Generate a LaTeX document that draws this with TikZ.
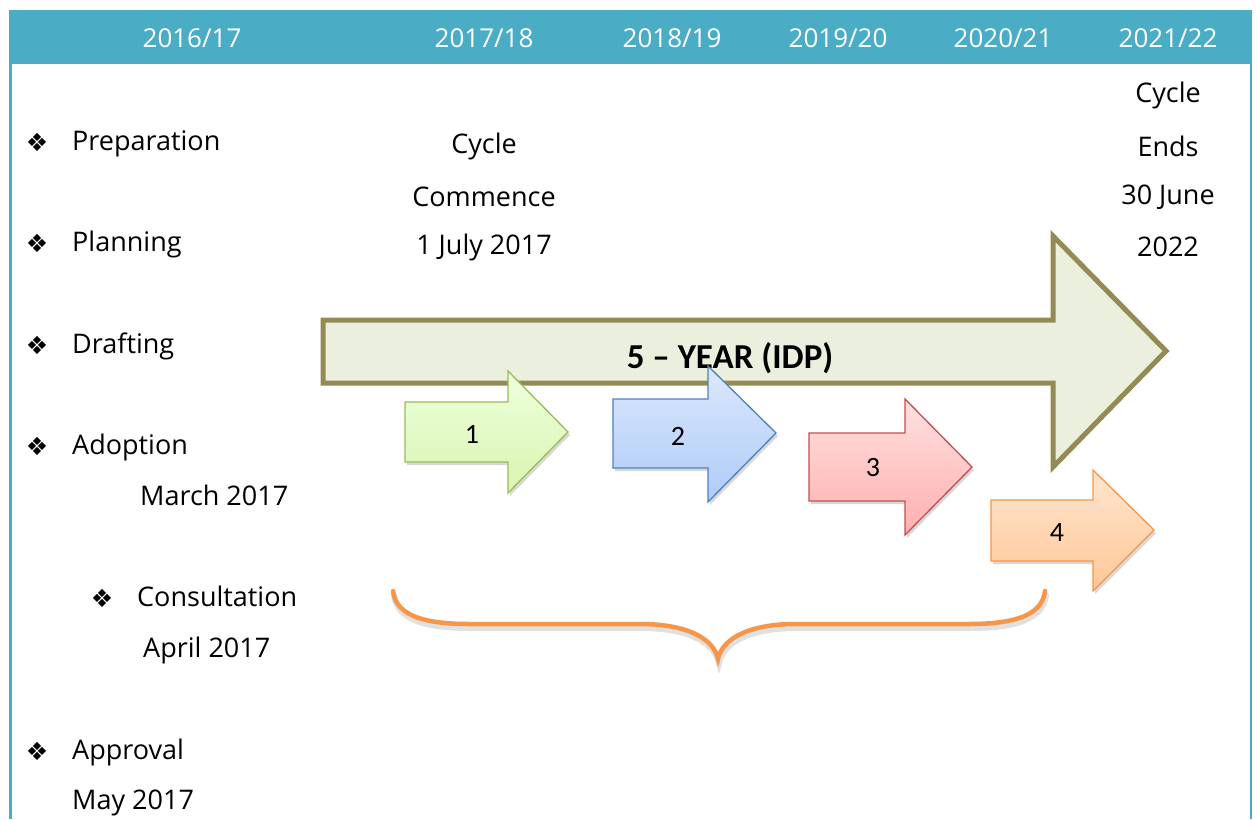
\documentclass[tikz,border=0pt]{standalone}
\usepackage{fontspec}
\setmainfont{Open Sans}
\newfontfamily\dejavu{DejaVu Sans}
\newfontfamily\carlito{Carlito}
\usetikzlibrary{shadows}
\definecolor{hdr}{HTML}{4BACC6}
\definecolor{olive}{HTML}{948A54}
\definecolor{olivefill}{HTML}{EBF0DE}
\definecolor{gline}{HTML}{9BBB59}
\definecolor{gtop}{HTML}{EEFFDD}
\definecolor{gbot}{HTML}{D8F5B0}
\definecolor{bline}{HTML}{4F81BD}
\definecolor{btop}{HTML}{DCE8FC}
\definecolor{bbot}{HTML}{AECBF8}
\definecolor{rline}{HTML}{C0504D}
\definecolor{rtop}{HTML}{FFE0E0}
\definecolor{rbot}{HTML}{FFAFAF}
\definecolor{oline}{HTML}{F79646}
\definecolor{otop}{HTML}{FFE5D0}
\definecolor{obot}{HTML}{FFC896}
\begin{document}
\begin{tikzpicture}[x=1pt,y=-1pt,
  hdrtext/.style={text=white,font=\fontsize{26}{30}\selectfont,inner sep=0pt},
  bodytext/.style={font=\fontsize{27}{32}\selectfont,inner sep=0pt},
  bul/.style={font=\dejavu\fontsize{25}{28}\selectfont,inner sep=0pt},
  numtext/.style={font=\carlito\fontsize{28}{32}\selectfont,inner sep=0pt},
  smallarrow/.style={line width=1.3pt,drop shadow={opacity=0.3,shadow xshift=2pt,shadow yshift=-3pt}},
  bracepath/.style={line width=4.5pt,line cap=round},
]
\useasboundingbox (0,0) rectangle (1257,819);
\fill[white] (0,0) rectangle (1257,819);
% header and frame
\fill[hdr] (9,10) rectangle (1252,64);
\draw[hdr,line width=3pt] (10,10) -- (10,819);
\draw[hdr,line width=2pt] (1251,10) -- (1251,819);
\node[hdrtext] (h1) at (192,38) {2016/17};
\node[hdrtext] (h2) at (484,38) {2017/18};
\node[hdrtext] (h3) at (672,38) {2018/19};
\node[hdrtext] (h4) at (838,38) {2019/20};
\node[hdrtext] (h5) at (1003,38) {2020/21};
\node[hdrtext] (h6) at (1168,38) {2021/22};
% left list
\node[bul] (b1) at (37,142) {❖};
\node[bodytext,anchor=mid west] (t1) at (72,148) {Preparation};
\node[bul] (b2) at (37,243) {❖};
\node[bodytext,anchor=mid west] (t2) at (72,249) {Planning};
\node[bul] (b3) at (37,345) {❖};
\node[bodytext,anchor=mid west] (t3) at (72,351) {Drafting};
\node[bul] (b4) at (37,446) {❖};
\node[bodytext,anchor=mid west] (t4) at (72,452) {Adoption};
\node[bodytext,anchor=mid west] (t4b) at (140,503) {March 2017};
\node[bul] (b5) at (102,598) {❖};
\node[bodytext,anchor=mid west] (t5) at (137,604) {Consultation};
\node[bodytext,anchor=mid west] (t5b) at (143,655) {April 2017};
\node[bul] (b6) at (37,751) {❖};
\node[bodytext,anchor=mid west] (t6) at (72,757) {Approval};
\node[bodytext,anchor=mid west] (t6b) at (72,807) {May 2017};
% cycle texts
\node[bodytext] (c1) at (484,146) {Cycle};
\node[bodytext] (c2) at (484,197) {Commence};
\node[bodytext] (c3) at (484,247) {1 July 2017};
\node[bodytext] (e1) at (1168,95) {Cycle};
\node[bodytext] (e2) at (1168,146) {Ends};
\node[bodytext] (e3) at (1168,197) {30 June};
\node[bodytext] (e4) at (1168,247) {2022};
% big arrow
\draw[olive,fill=olivefill,line width=5pt,line join=miter]
  (323,320) -- (1053,320) -- (1053,236) -- (1166,351) -- (1053,467) -- (1053,383) -- (323,383) -- cycle;
\node[font=\carlito\bfseries\fontsize{35}{38}\selectfont,inner sep=0pt] (big) at (730,358) {5 – YEAR (IDP)};
% small arrows
\draw[smallarrow,draw=gline,top color=gtop,bottom color=gbot]
  (405,402) -- (508,402) -- (508,371) -- (568,432) -- (508,493) -- (508,462) -- (405,462) -- cycle;
\node[numtext] (n1) at (472,434) {1};
\draw[smallarrow,draw=bline,top color=btop,bottom color=bbot]
  (613,399) -- (708,399) -- (708,366) -- (776,433) -- (708,502) -- (708,468) -- (613,468) -- cycle;
\node[numtext] (n2) at (678,436) {2};
\draw[smallarrow,draw=rline,top color=rtop,bottom color=rbot]
  (809,433) -- (905,433) -- (905,399) -- (972,467) -- (905,535) -- (905,501) -- (809,501) -- cycle;
\node[numtext] (n3) at (873,468) {3};
\draw[smallarrow,draw=oline,top color=otop,bottom color=obot]
  (991,500) -- (1093,500) -- (1093,470) -- (1154,530) -- (1093,591) -- (1093,561) -- (991,561) -- cycle;
\node[numtext] (n4) at (1057,533) {4};
% brace
\coordinate (brl) at (393,591);
\coordinate (brr) at (1045,591);
\coordinate (brm) at (718,659);
\begin{scope}[shift={(1,4)}]
\draw[bracepath,black,opacity=0.12,line width=6pt]
  (393,591) .. controls (396,618) and (430,624) .. (470,624) -- (640,624)
  .. controls (690,624) and (714,640) .. (718,659)
  .. controls (722,640) and (746,624) .. (796,624) -- (968,624)
  .. controls (1008,624) and (1042,618) .. (1045,591);
\end{scope}
\draw[bracepath,oline]
  (brl) .. controls (396,618) and (430,624) .. (470,624) -- (640,624)
  .. controls (690,624) and (714,640) .. (brm)
  .. controls (722,640) and (746,624) .. (796,624) -- (968,624)
  .. controls (1008,624) and (1042,618) .. (brr);
\end{tikzpicture}
\end{document}
